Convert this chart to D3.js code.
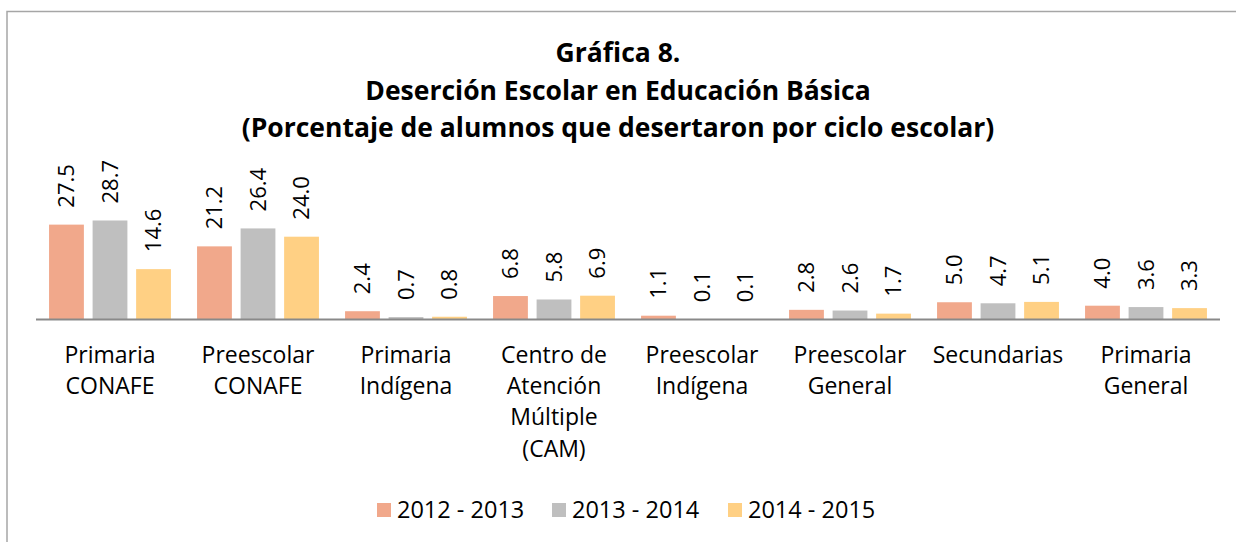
<!DOCTYPE html>
<html>
<head>
<meta charset="utf-8">
<script src="https://cdn.jsdelivr.net/npm/d3@7"></script>
<style>
  body { margin: 0; background: #fff; }
  svg { display: block; font-family: "Open Sans", sans-serif; }
</style>
</head>
<body>
<svg id="chart"></svg>
<script>
// data
var categories = [
    ["Primaria", "CONAFE"],
    ["Preescolar", "CONAFE"],
    ["Primaria", "Indígena"],
    ["Centro de", "Atención", "Múltiple", "(CAM)"],
    ["Preescolar", "Indígena"],
    ["Preescolar", "General"],
    ["Secundarias"],
    ["Primaria", "General"]
]
var series = ["2012 - 2013", "2013 - 2014", "2014 - 2015"]
var values2012 = [27.5, 21.2, 2.4, 6.8, 1.1, 2.8, 5.0, 4.0]
var values2013 = [28.7, 26.4, 0.7, 5.8, 0.1, 2.6, 4.7, 3.6]
var values2014 = [14.6, 24.0, 0.8, 6.9, 0.1, 1.7, 5.1, 3.3]
var titleLines = ["Gráfica 8.", "Deserción Escolar en Educación Básica", "(Porcentaje de alumnos que desertaron por ciclo escolar)"]

var colors = ["#F1A88B", "#BFBFBF", "#FFD084"]

var W = 1236, H = 542
var svg = d3.select("#chart").attr("width", W).attr("height", H)

// outer chart frame (only top and left visible)
svg.append("rect")
   .attr("x", 7).attr("y", 11.5)
   .attr("width", 1400).attr("height", 700)
   .attr("fill", "none")
   .attr("stroke", "#a6a6a6")
   .attr("stroke-width", 1.5)

// title
svg.append("g")
   .selectAll("text")
   .data(titleLines)
   .join("text")
   .attr("x", 618)
   .attr("y", (d, i) => 62 + i * 37.5)
   .attr("text-anchor", "middle")
   .attr("font-size", 26.5)
   .attr("font-weight", "bold")
   .attr("fill", "#000")
   .text(d => d)

var catIdx = d3.range(categories.length)
var x0 = d3.scaleBand().domain(catIdx).range([36, 1220]).padding(0)
var x1 = d3.scaleBand().domain(d3.range(series.length)).range([0, x0.bandwidth()])
           .paddingInner(0.2).paddingOuter(0.3)
var y = d3.scaleLinear().domain([0, 35]).range([319.5, 198.75])

var rows = catIdx.map(i => [values2012[i], values2013[i], values2014[i]])

var groups = svg.append("g")
   .selectAll(".group")
   .data(rows)
   .join("g")
   .attr("transform", (d, i) => `translate(${x0(i)},0)`)

groups.selectAll("rect")
   .data(d => d)
   .join("rect")
   .attr("x", (d, j) => x1(j))
   .attr("width", x1.bandwidth())
   .attr("y", d => y(d))
   .attr("height", d => y(0) - y(d))
   .attr("fill", (d, j) => colors[j])

// value labels, rotated
groups.selectAll(".lbl")
   .data(d => d)
   .join("text")
   .attr("class", "lbl")
   .attr("transform", (d, j) => `translate(${x1(j) + x1.bandwidth() / 2},${y(d) - 17}) rotate(-90)`)
   .attr("dy", "0.35em")
   .attr("font-size", 22)
   .attr("fill", "#000")
   .text(d => d.toFixed(1))

// axis line
svg.append("line")
   .attr("x1", 36).attr("x2", 1220)
   .attr("y1", y(0)).attr("y2", y(0))
   .attr("stroke", "#898989")
   .attr("stroke-width", 2)

// category labels
var catText = svg.append("g")
   .selectAll("text")
   .data(categories)
   .join("text")
   .attr("text-anchor", "middle")
   .attr("font-size", 23)
   .attr("fill", "#000")
   .attr("transform", (d, i) => `translate(${x0(i) + x0.bandwidth() / 2},0)`)

catText.selectAll("tspan")
   .data(d => d)
   .join("tspan")
   .attr("x", 0)
   .attr("y", (d, k) => 363 + k * 31.2)
   .text(d => d)

// legend
var legendX = [377, 552, 728]
var legend = svg.append("g")
   .selectAll("g")
   .data(series)
   .join("g")
   .attr("transform", (d, i) => `translate(${legendX[i]},503)`)

legend.append("rect")
   .attr("width", 14).attr("height", 14)
   .attr("fill", (d, i) => colors[i])

legend.append("text")
   .attr("x", 20)
   .attr("y", 14.5)
   .attr("font-size", 23.5)
   .attr("fill", "#000")
   .text(d => d)
</script>
</body>
</html>
